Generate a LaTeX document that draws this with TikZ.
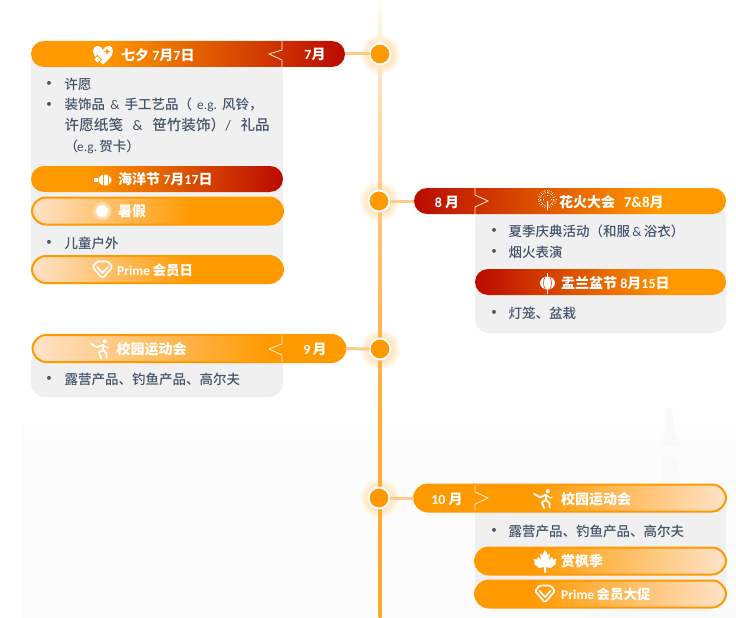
\documentclass[tikz,border=0pt]{standalone}
\usepackage{fontspec}
\setmainfont{Carlito}
\newfontfamily\cjk{Noto Sans CJK SC}
\newfontfamily\cjkm{Noto Sans CJK SC}[UprightFont=* Medium,BoldFont=* Bold]
\newcommand\zh[1]{{\cjk #1}}
\newcommand\zm[1]{{\cjkm #1}}
\definecolor{oo}{HTML}{FF9900}
\definecolor{bodytxt}{HTML}{44546A}
\definecolor{panelg}{HTML}{F0F0F0}
\definecolor{linkc}{HTML}{FFCB8A}
\pgfdeclarehorizontalshading{orred}{100bp}{rgb(0bp)=(1,.6,0);rgb(36bp)=(1,.6,0);rgb(75bp)=(.73,.04,0);rgb(100bp)=(.73,.04,0)}
\pgfdeclarehorizontalshading{redor}{100bp}{rgb(0bp)=(.73,.04,0);rgb(25bp)=(.73,.04,0);rgb(64bp)=(1,.6,0);rgb(100bp)=(1,.6,0)}
\pgfdeclarehorizontalshading{paleor}{100bp}{rgb(0bp)=(1,.89,.79);rgb(25bp)=(1,.89,.79);rgb(57bp)=(1,.6,0);rgb(100bp)=(1,.6,0)}
\pgfdeclarehorizontalshading{paleorlong}{100bp}{rgb(0bp)=(1,.89,.79);rgb(25bp)=(1,.89,.79);rgb(63bp)=(1,.6,0);rgb(100bp)=(1,.6,0)}
\pgfdeclarehorizontalshading{orpalelong}{100bp}{rgb(0bp)=(1,.6,0);rgb(44bp)=(1,.6,0);rgb(75bp)=(1,.89,.79);rgb(100bp)=(1,.89,.79)}
\pgfdeclarehorizontalshading{orpale}{100bp}{rgb(0bp)=(1,.6,0);rgb(36bp)=(1,.6,0);rgb(75bp)=(1,.89,.79);rgb(100bp)=(1,.89,.79)}
\pgfdeclareverticalshading{tline}{100bp}{rgb(0bp)=(1,.66,.18);rgb(25bp)=(1,.66,.18);rgb(43bp)=(1,.68,.24);rgb(55bp)=(1,.75,.44);rgb(67bp)=(1,.87,.69);rgb(73bp)=(1,.95,.88);rgb(75bp)=(1,1,1);rgb(100bp)=(1,1,1)}
\pgfdeclareverticalshading{bgfade}{100bp}{rgb(0bp)=(.988,.988,.988);rgb(25bp)=(.988,.988,.988);rgb(62bp)=(.988,.988,.988);rgb(75bp)=(1,1,1);rgb(100bp)=(1,1,1)}
\tikzset{
  pill/.style={shape=rectangle,rounded corners=13pt,inner sep=0pt,outer sep=0pt,minimum height=26pt},
  ringed/.style={draw=oo,line width=2pt,rounded corners=14pt,minimum height=27pt},
  headtxt/.style={text=white,inner sep=0pt,anchor=west,font=\fontsize{14}{16}\selectfont\bfseries},
  monthtxt/.style={text=white,inner sep=0pt,anchor=center,font=\fontsize{14}{16}\selectfont\bfseries},
  softtxt/.style={text=white,inner sep=0pt,anchor=west,font=\fontsize{14}{16}\selectfont\bfseries},
  primetxt/.style={text=white,inner sep=0pt,anchor=west,font=\fontsize{13.5}{16}\selectfont\bfseries},
  bodyline/.style={text=bodytxt,inner sep=0pt,anchor=west,font=\fontsize{13.5}{21}\selectfont},
  bulletmark/.style={text=bodytxt,inner sep=0pt,anchor=center,font=\fontsize{11}{12}\selectfont},
  panel/.style={fill=panelg,draw=none},
  dotmark/.style={shape=circle,fill=oo,draw=white,line width=2pt,minimum size=21pt,inner sep=0pt,outer sep=0pt},
  halo/.style={inner color=oo!60!white,outer color=white,draw=none},
  linkline/.style={draw=linkc,line width=3pt},
  divider/.style={draw=white!85!oo,line width=.8pt},
  iconline/.style={draw=white,line width=1.5pt,line cap=round,line join=round},
}
\newcommand\icGem[1]{\begin{scope}[shift={(#1)}]
  \draw[iconline,line width=1.7pt,rounded corners=1.5pt] (-5.5,-8.5)--(5.5,-8.5)--(10,-3)--(0,8.5)--(-10,-3)--cycle;
  \draw[iconline,line width=1.7pt] (-5.5,-3)--(0,3)--(5.5,-3);
\end{scope}}
\newcommand\icRunner[1]{\begin{scope}[shift={(#1)},scale=.86]
  \fill[white] (5,-9) circle (2.4);
  \draw[iconline,line width=1.8pt] (-11,-6)--(-4,-2)--(3,-5)--(3,1)--(-2,4)--(1,11);
  \draw[iconline,line width=1.8pt] (3,1)--(7,5)--(7,10);
  \draw[iconline,line width=1.1pt] (3,-5)--(8,-1)--(10,-2);
\end{scope}}
\begin{document}
\begin{tikzpicture}[x=1pt,y=-1pt]
\useasboundingbox (0,0) rectangle (736,618);
% faint backdrop
\shade[shading=bgfade] (22,395) rectangle (736,618);
\begin{scope}[fill=black!2.5]
  \fill (667,408) -- (672,408) -- (674,432) -- (680,446) -- (660,446) -- (665,432) -- cycle;
  \fill (670.5,462) ellipse (9 and 6);
  \fill (670.5,471) ellipse (9 and 6);
  \fill (670.5,480) ellipse (10 and 6);
  \fill (680,622) ellipse (100 and 16);
\end{scope}
% coordinates and halos
\coordinate (top) at (380,0);
\coordinate (bottom) at (380,618);
\foreach \cx/\cy in {380/54,379/201,380/349,379/498}{\shade[halo] (\cx,\cy) circle (21);}
\shade[shading=tline] (378.5,0) rectangle (381.5,618);
% panels
\fill[panel] (31,60) rectangle (283,276);
\fill[panel,rounded corners=14pt] (31,350) -- (31,397) -- (283,397) -- (283,350) -- cycle;
\fill[panel,rounded corners=14pt] (475,205) -- (475,333) -- (726,333) -- (726,205) -- cycle;
\fill[panel] (475,505) rectangle (726,600);
% pills
\node[pill,shading=orred,shade,minimum width=314pt] (h7) at (188,54) {};
\node[pill,shading=orred,shade,minimum width=252pt] (ocean) at (157,179) {};
\node[pill,ringed,shading=paleor,shade,minimum width=251pt] (summer) at (157.5,211) {};
\node[pill,ringed,shading=paleor,shade,minimum width=251pt] (primeday) at (157.5,269.5) {};
\node[pill,ringed,shading=paleorlong,shade,minimum width=313pt] (h9) at (189,348.5) {};
\node[pill,shading=redor,shade,minimum width=312pt] (h8) at (570,201) {};
\node[pill,shading=redor,shade,minimum width=251pt] (ghost) at (600.5,282) {};
\node[pill,ringed,shading=orpalelong,shade,minimum width=312pt] (h10) at (570,498) {};
\node[pill,ringed,shading=orpale,shade,minimum width=251pt] (maple) at (600.5,561) {};
\node[pill,ringed,shading=orpale,shade,minimum width=251pt] (promo) at (600.5,594) {};
% dividers
\draw[divider] (282,41) -- (282,50) -- (269,54) -- (282,60) -- (282,67);
\draw[divider] (282,335) -- (282,344) -- (269,349) -- (282,355) -- (282,362);
\draw[divider] (475,188) -- (475,195) -- (488,201) -- (475,207) -- (475,214);
\draw[divider] (475,485) -- (475,492) -- (488,498) -- (475,504) -- (475,511);
% dots and links
\node[dotmark] (d7) at (380,54) {};
\node[dotmark] (d8) at (379,201) {};
\node[dotmark] (d9) at (380,349) {};
\node[dotmark] (d10) at (379,498) {};
\draw[linkline] (h7.east) -- (d7.west);
\draw[linkline] (h8.west) -- (d8.east);
\draw[linkline] (h9.east) -- (d9.west);
\draw[linkline] (h10.west) -- (d10.east);
% header text
\node[headtxt] (t1) at (121,55) {\zh{七夕}\ 7\zh{月}7\zh{日}};
\node[monthtxt] (m7) at (315,54) {7\zh{月}};
\node[headtxt] (t2) at (118,179) {\zh{海洋节}\ 7\zh{月}17\zh{日}};
\node[softtxt] (t3) at (118,211) {\zh{暑假}};
\node[primetxt] (t4) at (117,270) {Prime\,\zh{会员日}};
\node[softtxt] (t5) at (116.5,349) {\zh{校园运动会}};
\node[monthtxt] (m9) at (315,349) {9\,\zh{月}};
\node[monthtxt] (m8) at (447,202) {8 \zh{月}};
\node[headtxt] (t6) at (559,202) {\zh{花火大会}\ \ \,{\fontsize{15}{16}\selectfont 7\&8}\zh{月}};
\node[headtxt] (t7) at (561,283) {\zh{盂兰盆节}\ 8\zh{月}15\zh{日}};
\node[monthtxt] (m10) at (447,499) {10 \zh{月}};
\node[softtxt] (t8) at (561,499) {\zh{校园运动会}};
\node[softtxt] (t9) at (561,561) {\zh{赏枫季}};
\node[primetxt] (t10) at (561,594) {Prime\,\zh{会员大促}};
% body text
\node[bulletmark] (b1) at (49,84) {•};
\node[bodyline] (l1) at (64.5,84) {\zm{许愿}};
\node[bulletmark] (b2) at (49,105) {•};
\node[bodyline,anchor=north west,align=left] (l2) at (64.5,98) {\hbox to 198pt{\zm{装饰品}\hfil\&\hfil\zm{手工艺品（}\hfil e.g.\hfil\zm{风铃，}}\\
\hbox to 205pt{\fontsize{14.6}{21}\selectfont\zm{许愿纸笺}\hfil\&\hfil\zm{笹竹装饰）}/\hfil\zm{礼品}}\\
\zm{（}\kern-1pt e.g.\,\zm{贺卡）}};
\node[bulletmark] (b3) at (49,243) {•};
\node[bodyline] (l3) at (64.5,243) {\zm{儿童户外}};
\node[bulletmark] (b4) at (49,379) {•};
\node[bodyline] (l4) at (64.5,379) {\zm{露营产品、钓鱼产品、高尔夫}};
\node[bulletmark] (b5) at (494,231) {•};
\node[bodyline] (l5) at (508.5,231) {\zm{夏季庆典活动（和服}\,\&\,\zm{浴衣）}};
\node[bulletmark] (b6) at (494,252) {•};
\node[bodyline] (l6) at (508.5,252) {\zm{烟火表演}};
\node[bulletmark] (b7) at (494,313) {•};
\node[bodyline] (l7) at (508.5,313) {\zm{灯笼、盆栽}};
\node[bulletmark] (b8) at (494,531) {•};
\node[bodyline] (l8) at (508.5,531) {\zm{露营产品、钓鱼产品、高尔夫}};
% heart icon
\begin{scope}[shift={(103,55)}]
  \fill[white] (0,9.5) .. controls (-4,6) and (-10,1) .. (-10,-4) .. controls (-10,-10) and (-3,-11) .. (0,-5) .. controls (3,-11) and (10,-10) .. (10,-4) .. controls (10,1) and (4,6) .. (0,9.5) -- cycle;
  \fill[oo] (4,-6.5) -- (5,-4.5) -- (7,-3.5) -- (5,-2.5) -- (4,-.5) -- (3,-2.5) -- (1,-3.5) -- (3,-4.5) -- cycle;
  \fill[white,draw=oo,line width=.9pt] (-5.5,.5) -- (-1.5,4.5) -- (-5.5,8.5) -- (-9.5,4.5) -- cycle;
\end{scope}
% fish icon
\begin{scope}[shift={(102,180)}]
  \fill[white] (3,0) ellipse (6.5 and 5.5);
  \fill[white] (-3,-3) rectangle (-1,3);
  \fill[white] (-8.5,-1.8) rectangle (-4.5,1.8);
  \draw[oo,line width=1pt] (1.5,-6) -- (1.5,6);
  \draw[oo,line width=1pt] (6,-6) -- (6,6);
\end{scope}
% sun icon
\shade[inner color=white,outer color=white!55!oo] (102,211) circle (9.5);
\fill[white] (102,211) circle (5.8);
% gems
\icGem{102.5,270}
\icGem{545,594}
% runners
\icRunner{100.5,349}
\icRunner{543.5,499}
% fireworks icon
\begin{scope}[shift={(547,199)}]
  \foreach \a in {0,30,...,330}{\draw[white,line width=.6pt,dotted] (\a:3.5) -- (\a:10);}
  \foreach \a in {15,45,...,345}{\draw[white,line width=.5pt] (\a:6) -- (\a:9);}
  \draw[white,line width=.6pt] (0,2) -- (0,11);
\end{scope}
% lantern icon
\begin{scope}[shift={(547.5,283)}]
  \fill[white] (0,0) ellipse (7.5 and 6.5);
  \draw[white,line width=1pt] (0,-10) -- (0,10.5);
  \draw[oo!40!red,line width=.6pt] (-2.5,-6) .. controls (-4.5,-2) and (-4.5,2) .. (-2.5,6);
  \draw[oo!40!red,line width=.6pt] (2.5,-6) .. controls (4.5,-2) and (4.5,2) .. (2.5,6);
\end{scope}
% maple icon
\begin{scope}[shift={(545,561)}]
  \fill[white] (0,-11) -- (2.8,-6) -- (5,-7) -- (4,-1) -- (7,-4) -- (8,-1.5) -- (11.5,-2) -- (10,2) -- (11,3) -- (5.5,7) -- (1,6) -- (1,11.5) -- (-1,11.5) -- (-1,6) -- (-5.5,7) -- (-11,3) -- (-10,2) -- (-11.5,-2) -- (-8,-1.5) -- (-7,-4) -- (-4,-1) -- (-5,-7) -- (-2.8,-6) -- cycle;
\end{scope}
\end{tikzpicture}
\end{document}
